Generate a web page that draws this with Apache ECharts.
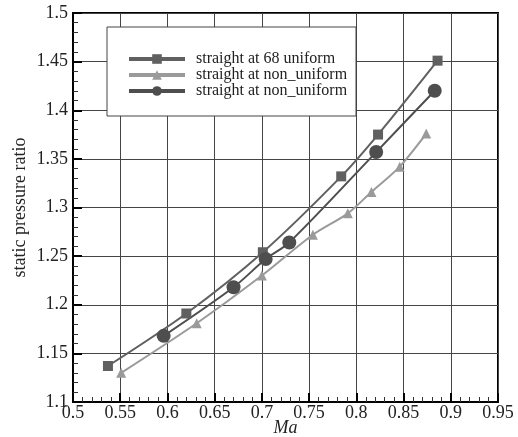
<!DOCTYPE html>
<html>
<head>
  <meta charset="utf-8">
  <title>static pressure ratio</title>
  <script src="https://cdn.jsdelivr.net/npm/echarts@6/dist/echarts.min.js"></script>
</head>
<body style="margin:0;background:#fff">
<div id="chartmain" style="width:518px; height:437px;"></div>
<script type="text/javascript">
  // legend names
  var names = ['straight at 68 uniform', 'straight at non_uniform', 'straight at non_uniform '];
  // Ma values and pressure ratio per series
  var ma68 = [0.537, 0.620, 0.701, 0.784, 0.823, 0.886];
  var p68 = [1.137, 1.191, 1.254, 1.332, 1.375, 1.451];
  var maTri = [0.551, 0.631, 0.700, 0.754, 0.791, 0.816, 0.846, 0.874];
  var pTri = [1.130, 1.181, 1.230, 1.272, 1.294, 1.316, 1.342, 1.376];
  var maCir = [0.596, 0.670, 0.704, 0.729, 0.821, 0.883];
  var pCir = [1.168, 1.218, 1.247, 1.264, 1.357, 1.420];

  function pairs(xs, ys) {
    var out = [];
    for (var i = 0; i < xs.length; i++) out.push([xs[i], ys[i]]);
    return out;
  }

  var serif = 'Liberation Serif';
  var myChart = echarts.init(document.getElementById('chartmain'));
  var option = {
    animation: false,
    backgroundColor: '#fff',
    grid: {
      left: 73, right: 20, top: 13, bottom: 35,
      outerBoundsMode: 'none',
      show: true, borderColor: '#000', borderWidth: 2, backgroundColor: '#fff'
    },
    graphic: [{
      type: 'rect', z: 3,
      shape: {x: 107, y: 27, width: 249, height: 89},
      style: {fill: '#fff', stroke: '#444', lineWidth: 1}
    }],
    legend: {
      z: 5,
      orient: 'vertical',
      left: 127, top: 51, padding: 0,
      itemWidth: 56, itemHeight: 12, itemGap: 0,
      lineStyle: {width: 4},
      textStyle: {fontFamily: serif, fontSize: 16, lineHeight: 16, color: '#222', padding: [0, 0, 0, 6]},
      data: names
    },
    xAxis: {
      type: 'value', min: 0.5, max: 0.95, interval: 0.05,
      name: 'Ma', nameLocation: 'middle', nameGap: 17, nameMoveOverlap: false,
      nameTextStyle: {fontFamily: serif, fontStyle: 'italic', fontSize: 18, color: '#222'},
      axisLine: {lineStyle: {color: '#000', width: 2}},
      axisTick: {inside: true, length: 9, lineStyle: {color: '#000', width: 2}},
      minorTick: {show: true, splitNumber: 5, length: 5, lineStyle: {color: '#333'}},
      axisLabel: {fontFamily: serif, fontSize: 18, color: '#222', margin: 2},
      splitLine: {lineStyle: {color: '#444', width: 1}}
    },
    yAxis: {
      type: 'value', min: 1.1, max: 1.5, interval: 0.05,
      name: 'static pressure ratio', nameLocation: 'middle', nameGap: 44, nameMoveOverlap: false,
      nameTextStyle: {fontFamily: serif, fontSize: 18, color: '#222'},
      axisLine: {lineStyle: {color: '#000', width: 2}},
      axisTick: {inside: true, length: 9, lineStyle: {color: '#000', width: 2}},
      minorTick: {show: true, splitNumber: 5, length: 5, lineStyle: {color: '#333'}},
      axisLabel: {fontFamily: serif, fontSize: 18, color: '#222', margin: 5},
      splitLine: {lineStyle: {color: '#444', width: 1}}
    },
    series: [
      {
        name: names[0], type: 'line', smooth: 0.3,
        symbol: 'rect', symbolSize: 10,
        itemStyle: {color: '#606060'},
        lineStyle: {color: '#606060', width: 2},
        data: pairs(ma68, p68)
      },
      {
        name: names[1], type: 'line', smooth: 0.3,
        symbol: 'triangle', symbolSize: 10,
        itemStyle: {color: '#9a9a9a'},
        lineStyle: {color: '#9a9a9a', width: 2},
        data: pairs(maTri, pTri)
      },
      {
        name: names[2], type: 'line', smooth: 0.3,
        symbol: 'circle', symbolSize: 14,
        itemStyle: {color: '#4e4e4e'},
        lineStyle: {color: '#4e4e4e', width: 2},
        data: pairs(maCir, pCir)
      }
    ]
  };
  myChart.setOption(option);
</script>
</body>
</html>
